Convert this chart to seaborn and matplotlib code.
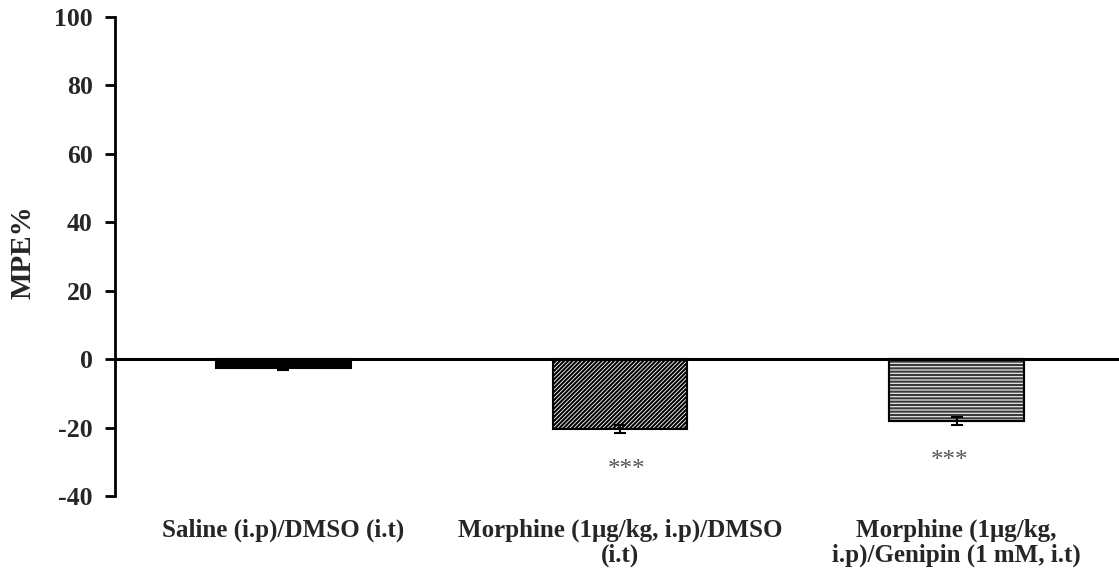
import matplotlib
matplotlib.use('Agg')
import matplotlib.pyplot as plt
from matplotlib.patches import Rectangle
import seaborn as sns

# Chart data
groups = ['Saline (i.p)/DMSO (i.t)',
          'Morphine (1\u03bcg/kg, i.p)/DMSO\n(i.t)',
          'Morphine (1\u03bcg/kg,\ni.p)/Genipin (1 mM, i.t)']
mpe = [-2.7, -20.4, -18.0]
sem = [0.6, 1.2, 1.2]
stars = ['', '***', '***']
star_y = [0, -32.3, -29.7]
y_ticks = [-40, -20, 0, 20, 40, 60, 80, 100]

sns.set_style('white')
plt.rcParams['font.family'] = ['Liberation Serif', 'DejaVu Serif']
plt.rcParams['hatch.linewidth'] = 1.5

fig = plt.figure(figsize=(11.19, 5.73), dpi=100)
ax = fig.add_axes([115 / 1119, 77 / 573, 1010 / 1119, 479 / 573])

sns.barplot(x=groups, y=mpe, ax=ax, width=0.4, errorbar=None,
            color='white', edgecolor='black', linewidth=1.5, saturation=1)

bars = ax.patches
bars[0].set_facecolor('black')
bars[1].set_hatch('////////')
# horizontal stripes in grey, outline kept black by an overlay
bars[2].set_hatch('-----')
bars[2].set_facecolor('#e6e6e6')
bars[2].set_edgecolor('#3a3a3a')
ax.add_patch(Rectangle((bars[2].get_x(), bars[2].get_y()), bars[2].get_width(),
                       bars[2].get_height(), fill=False, edgecolor='black',
                       linewidth=1.5, zorder=bars[2].get_zorder() + 0.1))

ax.errorbar(x=range(len(groups)), y=mpe, yerr=sem, fmt='none', ecolor='black',
            elinewidth=1.5, capsize=4, capthick=1.5, zorder=5)

# significance marks
offsets = [0, 0.02, -0.02]
for i, s in enumerate(stars):
    if s:
        ax.text(i + offsets[i], star_y[i], s, ha='center', va='center',
                fontsize=18, color='#555555')

ax.axhline(0, color='black', linewidth=2.2, zorder=4)
ax.set_xlim(-0.5, 2.5)
ax.set_ylim(-40, 100)
ax.set_yticks(y_ticks)
ax.set_yticklabels([str(t) for t in y_ticks], fontsize=18.5, fontweight='bold')
ax.set_xticks(range(len(groups)))
ax.set_xticklabels(groups, fontsize=18, fontweight='bold', linespacing=1.1)
ax.tick_params(axis='y', left=True, direction='out', length=7, width=2,
               pad=9, color='black')
ax.tick_params(axis='x', bottom=False, length=0, pad=16)

for side in ['top', 'right', 'bottom']:
    ax.spines[side].set_visible(False)
ax.spines['left'].set_linewidth(2)
ax.spines['left'].set_color('black')

ax.set_ylabel('MPE%', fontsize=21, fontweight='bold')
ax.yaxis.set_label_coords(-0.078, 0.51)
ax.set_xlabel('')

fig.savefig('out.png', dpi=100)
